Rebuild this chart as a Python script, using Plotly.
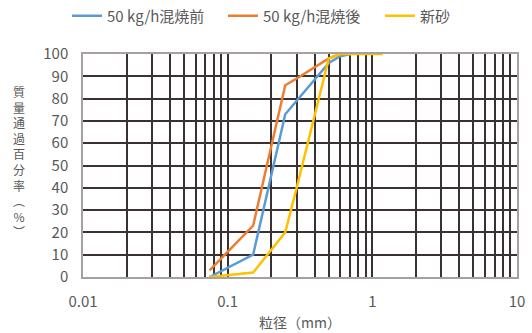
import plotly.graph_objects as go

# Sieve sizes (mm) and cumulative passing percentages
size_before = [0.075, 0.15, 0.25, 0.3, 0.5, 0.6, 0.71]
pass_before = [0, 10, 73, 79, 96, 99, 100]

size_after = [0.075, 0.15, 0.25, 0.3, 0.5, 0.6, 0.71]
pass_after = [3, 23, 86, 89, 98, 100, 100]

size_new = [0.075, 0.15, 0.25, 0.3, 0.5, 0.6, 1.18]
pass_new = [0, 2, 20, 40, 98, 100, 100]

names = ["50 kg/h混焼前", "50 kg/h混焼後", "新砂"]
colors = ["#5B9BD5", "#ED7D31", "#FFC000"]

x_labels = {0.01: "0.01", 0.1: "0.1", 1: "1", 10: "10"}
y_ticks = list(range(0, 101, 10))

font_family = "Noto Sans CJK JP"
text_color = "#595959"
grid_color = "#3a3232"

# one legend box per series, laid out in a row above the plot
legend_ids = ["legend", "legend2", "legend3"]
legend_left_px = [67, 223, 380]

fig = go.Figure()
for xs, ys, name, color, lg in zip(
    [size_before, size_after, size_new],
    [pass_before, pass_after, pass_new],
    names, colors, legend_ids,
):
    fig.add_trace(go.Scatter(
        x=xs, y=ys, name=name, mode="lines", legend=lg,
        line=dict(color=color, width=2.5),
    ))

# log-axis grid: a line at every 1..9 x 10^n, labels only on decades
tickvals = []
ticktext = []
for dec in [0.01, 0.1, 1]:
    for m in range(1, 10):
        v = round(dec * m, 6)
        tickvals.append(v)
        ticktext.append(x_labels.get(v, ""))
tickvals.append(10)
ticktext.append("10")

legend_style = dict(
    orientation="h", xref="container", yref="container",
    xanchor="left", y=0.952, yanchor="middle",
    font=dict(size=15, color=text_color), itemwidth=30,
    bgcolor="rgba(0,0,0,0)",
)

fig.update_layout(
    width=532, height=333,
    margin=dict(l=83, r=15, t=54, b=56, autoexpand=False),
    paper_bgcolor="white", plot_bgcolor="white",
    font=dict(family=font_family, size=15, color=text_color),
    showlegend=True,
    xaxis=dict(
        type="log", range=[-2, 1],
        tickmode="array", tickvals=tickvals, ticktext=ticktext,
        showgrid=True, gridcolor=grid_color, gridwidth=1.5,
        showline=True, linecolor="#a6a09e", linewidth=1.5, mirror=True,
        ticks="", zeroline=False, ticklabelstandoff=10,
        tickfont=dict(size=15, color=text_color),
        title=dict(text="粒径（mm）", font=dict(size=14, color=text_color), standoff=8),
    ),
    yaxis=dict(
        range=[0, 100], tickmode="array", tickvals=y_ticks,
        showgrid=True, gridcolor=grid_color, gridwidth=1.5,
        showline=True, linecolor="#a6a09e", linewidth=1.5, mirror=True,
        ticks="", zeroline=False, ticklabelstandoff=10,
        tickfont=dict(size=15, color=text_color),
    ),
)
for lg, left in zip(legend_ids, legend_left_px):
    fig.update_layout({lg: dict(legend_style, x=left / 532)})

# vertical y-axis title, one character per line
y_title = ["質", "量", "通", "過", "百", "分", "率", "︵", "%", "︶"]
fig.add_annotation(
    text="<br>".join(y_title), xref="paper", yref="paper",
    x=-0.148, y=0.516, xanchor="center", yanchor="middle",
    showarrow=False, align="center",
    font=dict(size=12, color=text_color, family=font_family),
)

fig.write_html("out.html")
